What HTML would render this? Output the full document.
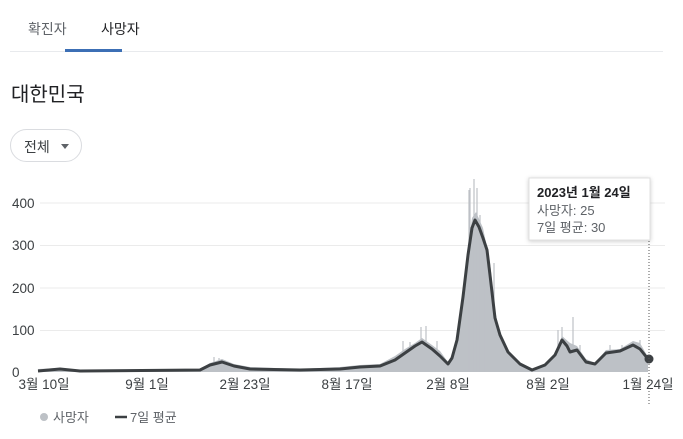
<!DOCTYPE html>
<html><head><meta charset="utf-8"><style>
body{margin:0;width:683px;height:439px;background:#fff;font-family:"Liberation Sans","Noto Sans CJK KR",sans-serif;overflow:hidden;position:relative}
.t{position:absolute;white-space:nowrap}
</style></head><body>
<div class="t" style="left:28px;top:19px;font-size:14px;color:#5f6368">확진자</div>
<div class="t" style="left:101px;top:19px;font-size:14px;color:#202124">사망자</div>
<div style="position:absolute;left:10px;top:51px;width:653px;height:1px;background:#e8eaed"></div>
<div style="position:absolute;left:65px;top:49px;width:57px;height:3px;background:#3c6fb5"></div>
<div class="t" style="left:11px;top:78px;font-size:20px;color:#202124">대한민국</div>
<div style="position:absolute;left:10px;top:129px;width:72px;height:33px;border:1px solid #dadce0;border-radius:17px;box-sizing:border-box"></div>
<div class="t" style="left:24px;top:137px;font-size:14px;color:#3c4043">전체</div>
<div style="position:absolute;left:61px;top:144px;border-left:4px solid transparent;border-right:4px solid transparent;border-top:5px solid #5f6368"></div>
<svg width="683" height="439" style="position:absolute;left:0;top:0" font-family="Liberation Sans, Noto Sans CJK KR, sans-serif">
<g stroke="#ebebeb" stroke-width="1">
<line x1="40" y1="203" x2="665" y2="203"/><line x1="40" y1="245.5" x2="665" y2="245.5"/><line x1="40" y1="288" x2="665" y2="288"/><line x1="40" y1="330.5" x2="665" y2="330.5"/>
</g>
<g font-size="13.5" fill="#3c4043">
<text x="12" y="208">400</text><text x="12" y="250">300</text><text x="12" y="293">200</text><text x="12" y="335">100</text><text x="12" y="377">0</text>
</g>
<g font-size="13.5" fill="#3c4043" text-anchor="middle">
<text x="44" y="389">3월 10일</text><text x="147" y="389">9월 1일</text><text x="245" y="389">2월 23일</text><text x="347" y="389">8월 17일</text><text x="448" y="389">2월 8일</text><text x="548" y="389">8월 2일</text><text x="648" y="389">1월 24일</text>
</g>
<path fill="#bdc1c6" d="M38,372 L38,369 60,368 80,370 200,369 210,363 222,359 234,364 250,367 300,369 340,367 360,365 380,364 395,356 405,349 415,343 422,338 432,345 440,351 448,362 452,356 457,338 463,295 468,250 472,218 476,212 483,228 490,262 495,310 500,335 508,353 520,363 532,369 545,364 555,353 562,336 570,343 577,346 586,359 595,363 606,350 620,349 633,341 640,343 648,357 648,372 Z"/>
<g stroke="#bdc1c6" stroke-width="1.2">
<line x1="214" y1="372" x2="214" y2="357"/><line x1="219" y1="372" x2="219" y2="358"/><line x1="403" y1="372" x2="403" y2="341"/><line x1="410" y1="372" x2="410" y2="342"/><line x1="421" y1="372" x2="421" y2="327"/><line x1="426" y1="372" x2="426" y2="326"/><line x1="437" y1="372" x2="437" y2="341"/><line x1="469" y1="372" x2="469" y2="190"/><line x1="470" y1="372" x2="470" y2="188"/><line x1="474" y1="372" x2="474" y2="179"/><line x1="477" y1="372" x2="477" y2="188"/><line x1="480" y1="372" x2="480" y2="215"/><line x1="485" y1="372" x2="485" y2="240"/><line x1="494" y1="372" x2="494" y2="263"/><line x1="558" y1="372" x2="558" y2="330"/><line x1="562" y1="372" x2="562" y2="327"/><line x1="573" y1="372" x2="573" y2="317"/><line x1="580" y1="372" x2="580" y2="345"/><line x1="610" y1="372" x2="610" y2="345"/><line x1="622" y1="372" x2="622" y2="345"/><line x1="635" y1="372" x2="635" y2="342"/><line x1="640" y1="372" x2="640" y2="340"/>
</g>
<polyline fill="none" stroke="#3c4043" stroke-width="3" stroke-linejoin="round" points="38,371 60,369 80,371 200,370 210,365 222,362 234,366 250,369 300,370 340,369 360,367 380,366 395,360 405,353 415,346 422,342 432,349 440,356 448,364 452,358 457,340 463,297 468,255 472,228 475,220 479,227 483,238 487,250 490,275 495,318 500,335 508,352 520,364 532,370 545,365 555,355 562,340 567,346 570,352 577,350 586,362 595,364 606,353 620,351 633,345 640,349 648,359"/>
<circle cx="649" cy="359" r="4.5" fill="#3c4043"/>
<line x1="649" y1="232" x2="649" y2="405" stroke="#555" stroke-width="1" stroke-dasharray="1,2"/>
<rect x="529" y="178" width="121" height="62" fill="#fff" stroke="#e0e0e0" style="filter:drop-shadow(0 1px 2px rgba(0,0,0,.2))"/>
<text x="537" y="197" font-size="13" font-weight="bold" fill="#202124">2023년 1월 24일</text>
<text x="537" y="215" font-size="13" fill="#5f6368">사망자: 25</text>
<text x="537" y="232" font-size="13" fill="#5f6368">7일 평균: 30</text>
<circle cx="44" cy="417" r="4" fill="#bdc1c6"/>
<text x="53" y="422" font-size="13" fill="#5f6368">사망자</text>
<line x1="115" y1="417" x2="127" y2="417" stroke="#3c4043" stroke-width="2.5"/>
<text x="130" y="422" font-size="13" fill="#5f6368">7일 평균</text>
</svg>
</body></html>
